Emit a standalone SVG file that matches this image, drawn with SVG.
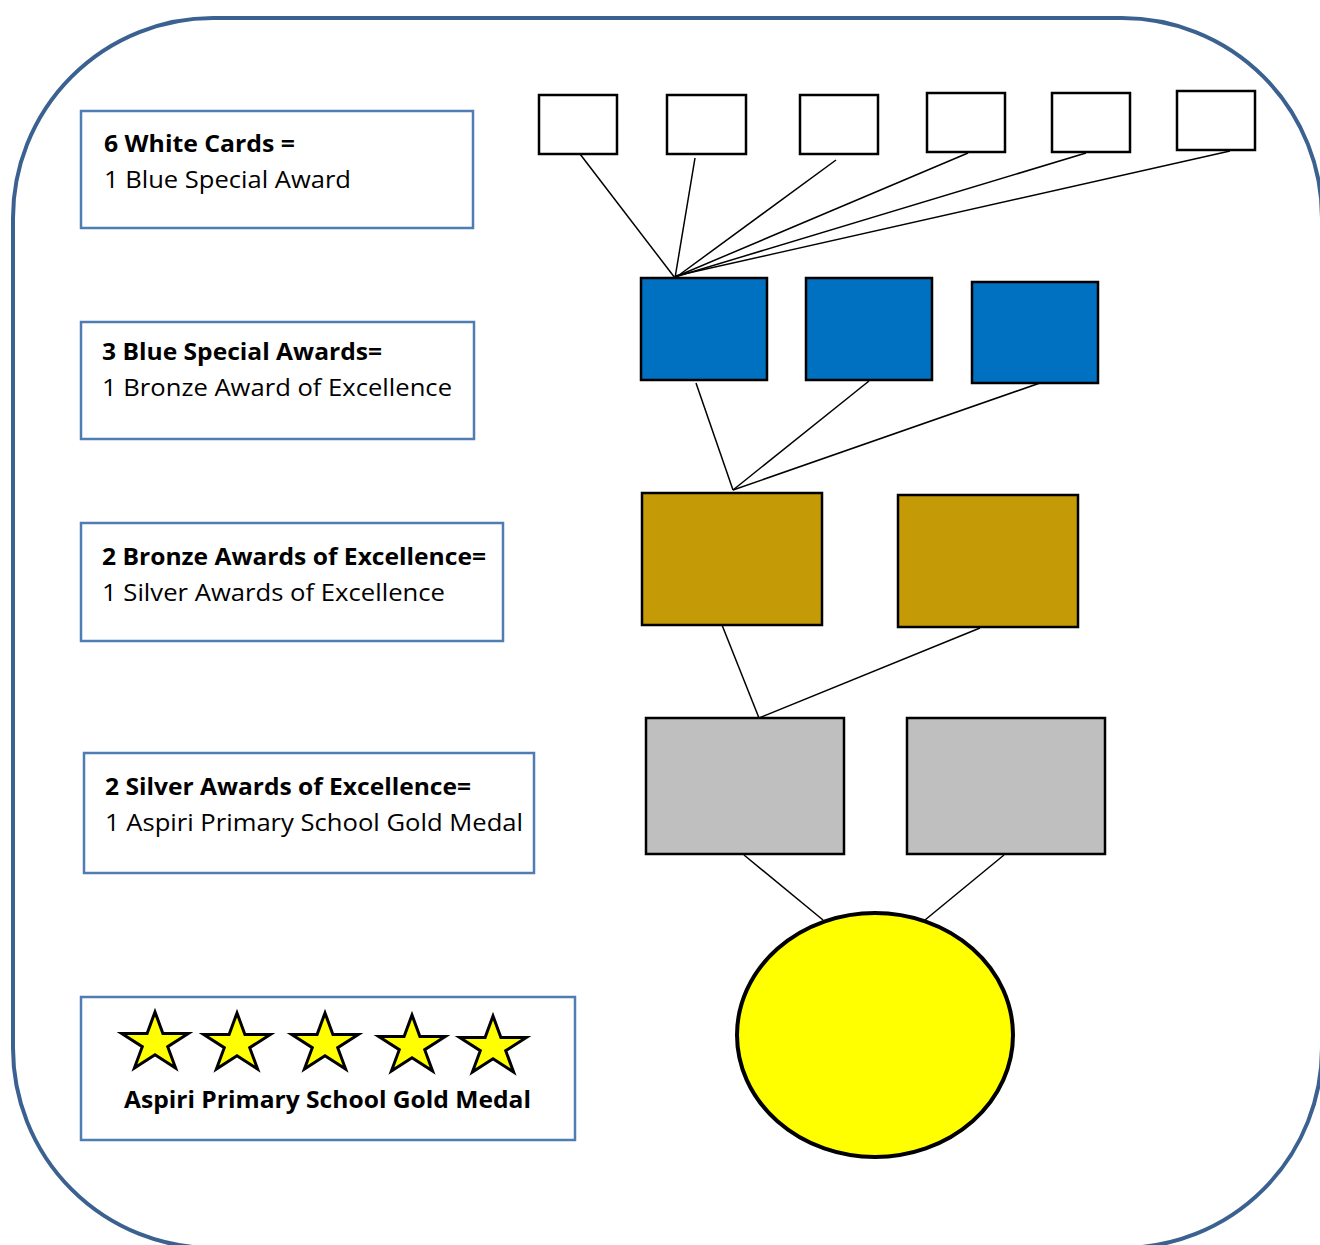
<svg xmlns="http://www.w3.org/2000/svg" width="1320" height="1245" viewBox="0 0 1320 1245">
<style>
.frame{fill:none;stroke:#3B6190;stroke-width:4}
.lbl{fill:#fff;stroke:#4F7DB3;stroke-width:2.5}
.card{fill:#fff;stroke:#000;stroke-width:2.5}
.blue{fill:#0070C0;stroke:#000;stroke-width:2.5}
.bronze{fill:#C49A07;stroke:#000;stroke-width:2.5}
.silver{fill:#BFBFBF;stroke:#000;stroke-width:2.5}
.conn line{stroke:#000;stroke-width:1.5}
text{font-family:"Open Sans","Noto Sans","Liberation Sans",sans-serif;font-size:24px;fill:#000}
.b{font-weight:bold}
.star{fill:#FFFF00;stroke:#000;stroke-width:3;stroke-linejoin:miter}
</style>
<defs>
<polygon id="star" points="0,-31 7.9,-9.6 33.3,-9.6 12.7,3.7 20.6,25.1 0,11.8 -20.6,25.1 -12.7,3.7 -33.3,-9.6 -7.9,-9.6"/>
</defs>
<rect width="1320" height="1245" fill="#fff"/>
<rect class="frame" x="13" y="18" width="1309" height="1230" rx="200" ry="200"/>

<g id="label-white">
<rect class="lbl" x="81" y="111" width="392" height="117"/>
<text class="b" x="104" y="152" textLength="191" lengthAdjust="spacingAndGlyphs">6 White Cards =</text>
<text x="104" y="188" textLength="247" lengthAdjust="spacingAndGlyphs">1 Blue Special Award</text>
</g>
<g id="label-blue">
<rect class="lbl" x="81" y="322" width="393" height="117"/>
<text class="b" x="102" y="360" textLength="280" lengthAdjust="spacingAndGlyphs">3 Blue Special Awards=</text>
<text x="102" y="396" textLength="350" lengthAdjust="spacingAndGlyphs">1 Bronze Award of Excellence</text>
</g>
<g id="label-bronze">
<rect class="lbl" x="81" y="523" width="422" height="118"/>
<text class="b" x="102" y="565" textLength="384" lengthAdjust="spacingAndGlyphs">2 Bronze Awards of Excellence=</text>
<text x="102" y="601" textLength="343" lengthAdjust="spacingAndGlyphs">1 Silver Awards of Excellence</text>
</g>
<g id="label-silver">
<rect class="lbl" x="84" y="753" width="450" height="120"/>
<text class="b" x="105" y="795" textLength="366" lengthAdjust="spacingAndGlyphs">2 Silver Awards of Excellence=</text>
<text x="105" y="831" textLength="418" lengthAdjust="spacingAndGlyphs">1 Aspiri Primary School Gold Medal</text>
</g>
<g id="label-gold">
<rect class="lbl" x="81" y="997" width="494" height="143"/>
<use href="#star" class="star" x="155" y="1043"/>
<use href="#star" class="star" x="237" y="1044"/>
<use href="#star" class="star" x="325" y="1044"/>
<use href="#star" class="star" x="412" y="1046"/>
<use href="#star" class="star" x="493" y="1047"/>
<text class="b" x="124" y="1108" textLength="407" lengthAdjust="spacingAndGlyphs">Aspiri Primary School Gold Medal</text>
</g>

<g id="connectors" class="conn">
<line x1="580" y1="154" x2="675" y2="278"/>
<line x1="695" y1="158" x2="675" y2="278"/>
<line x1="836" y1="160" x2="675" y2="278"/>
<line x1="968" y1="153" x2="675" y2="277"/>
<line x1="1086" y1="153" x2="675" y2="277"/>
<line x1="1230" y1="151" x2="675" y2="276"/>
<line x1="696" y1="383" x2="733" y2="490"/>
<line x1="869" y1="381" x2="733" y2="490"/>
<line x1="1040" y1="383" x2="733" y2="490"/>
<line x1="722" y1="625" x2="759" y2="718"/>
<line x1="980" y1="628" x2="759" y2="718"/>
<line x1="744" y1="855" x2="823" y2="920"/>
<line x1="1004" y1="855" x2="925" y2="920"/>
</g>

<g id="white-card-1"><rect class="card" x="539" y="95" width="78" height="59"/></g>
<g id="white-card-2"><rect class="card" x="667" y="95" width="79" height="59"/></g>
<g id="white-card-3"><rect class="card" x="800" y="95" width="78" height="59"/></g>
<g id="white-card-4"><rect class="card" x="927" y="93" width="78" height="59"/></g>
<g id="white-card-5"><rect class="card" x="1052" y="93" width="78" height="59"/></g>
<g id="white-card-6"><rect class="card" x="1177" y="91" width="78" height="59"/></g>

<g id="blue-1"><rect class="blue" x="641" y="278" width="126" height="102"/></g>
<g id="blue-2"><rect class="blue" x="806" y="278" width="126" height="102"/></g>
<g id="blue-3"><rect class="blue" x="972" y="282" width="126" height="101"/></g>

<g id="bronze-1"><rect class="bronze" x="642" y="493" width="180" height="132"/></g>
<g id="bronze-2"><rect class="bronze" x="898" y="495" width="180" height="132"/></g>

<g id="silver-1"><rect class="silver" x="646" y="718" width="198" height="136"/></g>
<g id="silver-2"><rect class="silver" x="907" y="718" width="198" height="136"/></g>

<g id="gold-medal"><ellipse cx="875" cy="1035" rx="138" ry="122" fill="#FFFF00" stroke="#000" stroke-width="4"/></g>
</svg>
